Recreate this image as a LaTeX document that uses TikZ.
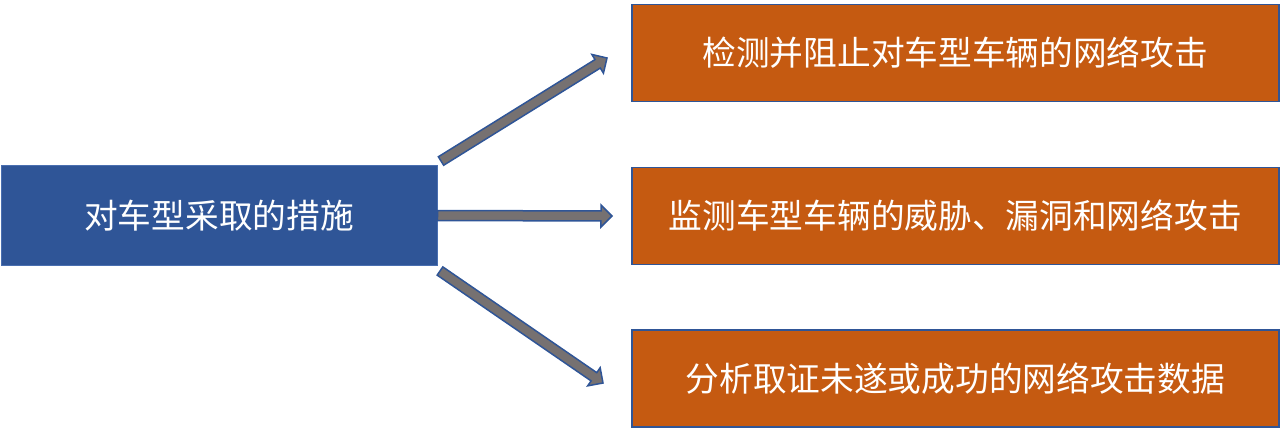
\documentclass[tikz,border=0pt]{standalone}
\usepackage{fontspec}
\newfontfamily\cjk{Noto Sans CJK SC}
\usetikzlibrary{calc}
\definecolor{boxblue}{HTML}{2F5597}
\definecolor{edgeblue}{HTML}{4A6FB0}
\definecolor{boxorange}{HTML}{C55A11}
\definecolor{arrowgray}{HTML}{767171}
\tikzset{
  leftbox/.style={draw=edgeblue, line width=1pt, fill=boxblue, text=white, font=\cjk\fontsize{33.7}{37}\selectfont,
    minimum width=436pt, minimum height=100pt, inner sep=0pt, anchor=north west},
  rightbox/.style={draw=boxblue, line width=1.6pt, fill=boxorange, text=white, font=\cjk\fontsize{33.7}{37}\selectfont,
    minimum width=647pt, minimum height=97pt, inner sep=0pt, anchor=north west},
  fat/.style={draw=boxblue, line width=1.5pt, fill=arrowgray, line join=miter}
}
\newcommand\fatarrow[2]{%
  \coordinate (h) at ($(#2)!11pt!(#1)$);
  \draw[fat] ($(#1)!5pt!90:(#2)$) -- ($(h)!5pt!90:(#2)$) -- ($(h)!11pt!90:(#2)$) -- (#2)
    -- ($(h)!11pt!-90:(#2)$) -- ($(h)!5pt!-90:(#2)$) -- ($(#1)!5pt!-90:(#2)$) -- cycle;}
\begin{document}
\begin{tikzpicture}[x=1pt,y=-1pt]
\useasboundingbox (0,0) rectangle (1280,429);
\node[leftbox] (root) at (0.5,165) {对车型采取的措施};
\node[rightbox] (r1) at (631,3.5) {检测并阻止对车型车辆的网络攻击};
\node[rightbox] (r2) at (631,166.5) {监测车型车辆的威胁、漏洞和网络攻击};
\node[rightbox] (r3) at (631,329) {分析取证未遂或成功的网络攻击数据};
\coordinate (s1) at (441,161);
\coordinate (e1) at (607,58);
\coordinate (s2) at (root.east);
\coordinate (e2) at (612,216);
\coordinate (s3) at (440,271);
\coordinate (e3) at (603,383);
\fatarrow{s1}{e1}
\fatarrow{s2}{e2}
\fatarrow{s3}{e3}
\end{tikzpicture}
\end{document}
